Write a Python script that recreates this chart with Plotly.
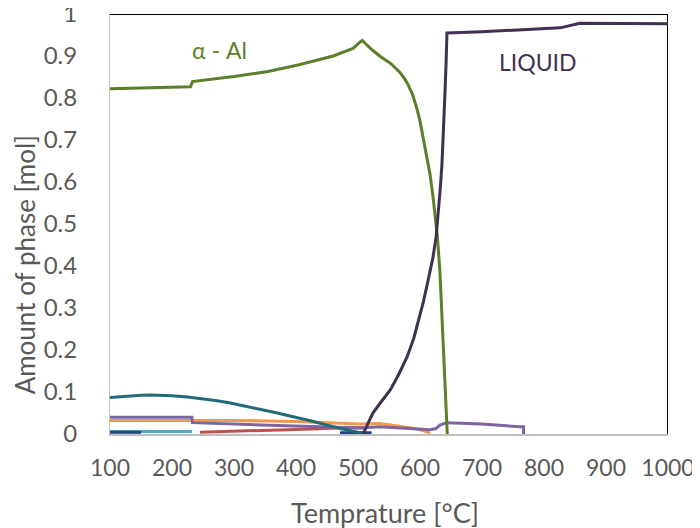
import plotly.graph_objects as go

# ---- data ----
alal_T = [100, 230, 233, 300, 355, 405, 460, 492, 503, 507, 511, 516, 524, 535, 545, 552, 560, 568, 575, 580,
          588, 595, 600, 606, 611, 616, 621, 625, 628, 632, 635, 638, 641, 643.5, 644]
alal_y = [0.822, 0.827, 0.839, 0.851, 0.863, 0.879, 0.900, 0.918, 0.933, 0.937, 0.931, 0.924, 0.913, 0.900, 0.891, 0.883, 0.872, 0.860, 0.846, 0.834,
          0.808, 0.775, 0.745, 0.700, 0.660, 0.620, 0.565, 0.515, 0.470, 0.390, 0.300, 0.210, 0.110, 0.010, 0.0]

liq_T = [506, 509, 512, 516, 524, 535, 545, 552, 565, 579, 590, 600, 605, 613, 621, 626, 629, 633, 635.5, 638, 640, 642, 643.5,
         700, 826, 858, 1000]
liq_y = [0.0, 0.002, 0.012, 0.025, 0.050, 0.072, 0.092, 0.105, 0.140, 0.183, 0.228, 0.280, 0.312, 0.365, 0.421, 0.470, 0.517, 0.590, 0.645, 0.720, 0.802, 0.880, 0.955,
         0.958, 0.967, 0.978, 0.977]

teal_T = [100, 115, 130, 150, 165, 185, 200, 225, 245, 270, 290, 310, 326, 350, 370, 390, 406, 425, 440, 460, 475, 490, 508]
teal_y = [0.087, 0.089, 0.091, 0.0925, 0.093, 0.092, 0.091, 0.088, 0.085, 0.080, 0.075, 0.069, 0.064, 0.056, 0.050, 0.043, 0.038, 0.031, 0.025, 0.017, 0.012, 0.007, 0.002]

purple_T = [100, 232, 233, 300, 400, 503, 535, 580, 616, 626, 632, 643, 700, 761, 767, 767]
purple_y = [0.040, 0.040, 0.027, 0.024, 0.019, 0.014, 0.017, 0.013, 0.010, 0.013, 0.021, 0.027, 0.024, 0.017, 0.017, 0.0]

orange_T = [100, 232, 300, 400, 503, 535, 560, 589, 605, 616]
orange_y = [0.032, 0.032, 0.032, 0.030, 0.024, 0.025, 0.020, 0.014, 0.008, 0.002]

ltblue_T = [100, 232]
ltblue_y = [0.006, 0.006]

red_T = [245, 300, 400, 480, 510]
red_y = [0.004, 0.007, 0.011, 0.015, 0.015]

dkblue_T = [100, 150, None, 471, 522]
dkblue_y = [0.004, 0.004, None, 0.003, 0.003]

frame_T = [100, 1000, 1000]
frame_y = [1.0, 1.0, 0.0]

x_ticks = [100, 200, 300, 400, 500, 600, 700, 800, 900, 1000]
y_ticks = [0, 0.1, 0.2, 0.3, 0.4, 0.5, 0.6, 0.7, 0.8, 0.9, 1]
y_ticktext = ["0", "0.1", "0.2", "0.3", "0.4", "0.5", "0.6", "0.7", "0.8", "0.9", "1"]

FONT = "Lato, 'Open Sans', sans-serif"
GREY = "#595959"

fig = go.Figure()

def add(x, y, color, width=3):
    fig.add_trace(go.Scatter(x=x, y=y, mode="lines", line=dict(color=color, width=width),
                             showlegend=False, hoverinfo="skip", connectgaps=False, cliponaxis=False))

add(frame_T, frame_y, "#000000", 2)
add(ltblue_T, ltblue_y, "#4BACC6")
add(red_T, red_y, "#C0504D")
add(orange_T, orange_y, "#F79646")
add(purple_T, purple_y, "#8064A2")
add(dkblue_T, dkblue_y, "#1F497D")
add(teal_T, teal_y, "#1F6B7A")
add(alal_T, alal_y, "#5E7F2A")
add(liq_T, liq_y, "#403152")

fig.add_annotation(x=276, y=0.914, text="α - Al", showarrow=False,
                   font=dict(family=FONT, size=23, color="#5E7F2A"))
fig.add_annotation(x=790, y=0.886, text="LIQUID", showarrow=False,
                   font=dict(family=FONT, size=23, color="#403152"))

# axis titles as paper annotations for exact placement
fig.add_annotation(xref="paper", yref="paper", x=0.493, y=-0.188, xanchor="center", yanchor="middle",
                   text="Temprature [°C]", showarrow=False,
                   font=dict(family=FONT, size=27, color=GREY))
fig.add_annotation(xref="paper", yref="paper", x=-0.152, y=0.402, xanchor="center", yanchor="middle",
                   text="Amount of phase [mol]", textangle=-90, showarrow=False,
                   font=dict(family=FONT, size=26, color=GREY))

# page body has an 8px margin, so the plot area is shifted up/left by 8px
fig.update_layout(
    width=700, height=528,
    margin=dict(l=102, r=40, t=6, b=102),
    paper_bgcolor="white", plot_bgcolor="white",
    font=dict(family=FONT, color=GREY),
    xaxis=dict(range=[100, 1000], tickvals=x_ticks, showgrid=False, zeroline=False,
               showline=True, linecolor="#BFBFBF", linewidth=2, ticks="", automargin=False,
               tickfont=dict(size=23, color=GREY), ticklabelstandoff=12, ticklabeloverflow="allow"),
    yaxis=dict(range=[0, 1], tickvals=y_ticks, ticktext=y_ticktext, showgrid=False, zeroline=False,
               showline=True, linecolor="#BFBFBF", linewidth=1, ticks="", automargin=False,
               tickfont=dict(size=24, color=GREY), ticklabelstandoff=27, ticklabeloverflow="allow"),
)

fig.write_html("out.html")
